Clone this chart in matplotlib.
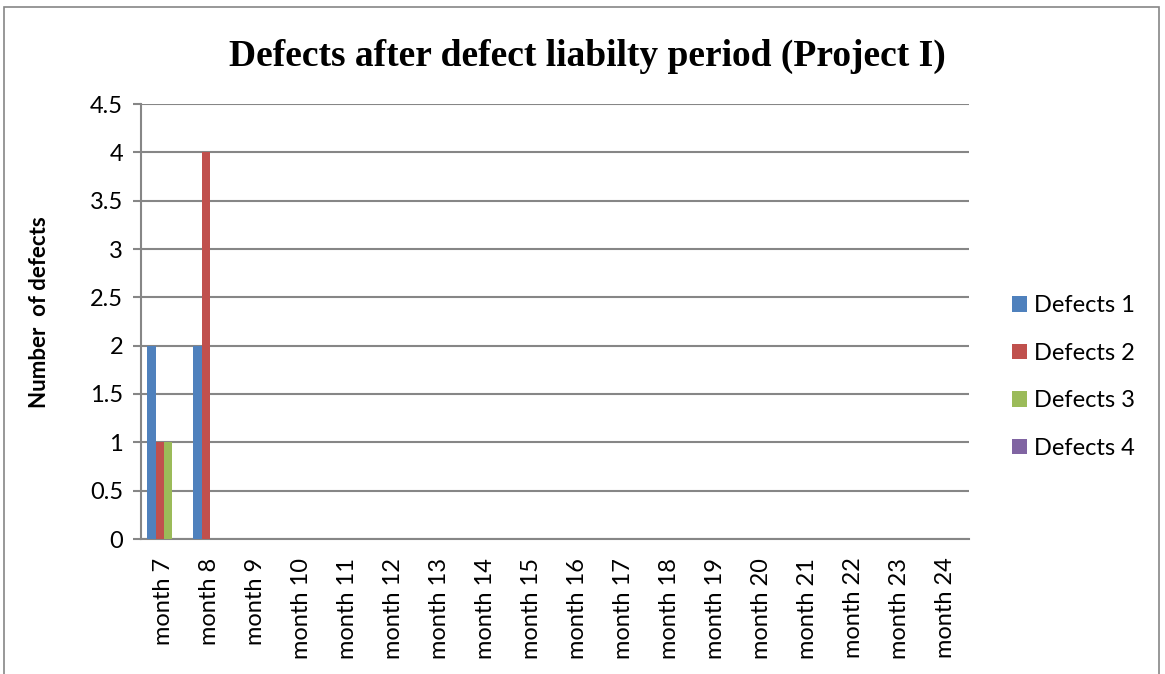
import matplotlib
matplotlib.use("Agg")
import matplotlib.pyplot as plt
import numpy as np
from matplotlib.patches import Rectangle

categories = ["month %d" % m for m in range(7, 25)]
series_names = ["Defects 1", "Defects 2", "Defects 3", "Defects 4"]
defects1 = [2, 2, 0, 0, 0, 0, 0, 0, 0, 0, 0, 0, 0, 0, 0, 0, 0, 0]
defects2 = [1, 4, 0, 0, 0, 0, 0, 0, 0, 0, 0, 0, 0, 0, 0, 0, 0, 0]
defects3 = [1, 0, 0, 0, 0, 0, 0, 0, 0, 0, 0, 0, 0, 0, 0, 0, 0, 0]
defects4 = [0, 0, 0, 0, 0, 0, 0, 0, 0, 0, 0, 0, 0, 0, 0, 0, 0, 0]
yticks = [0, 0.5, 1, 1.5, 2, 2.5, 3, 3.5, 4, 4.5]
colors = ["#4F81BD", "#C0504D", "#9BBB59", "#8064A2"]

W, H = 1165, 674
fig = plt.figure(figsize=(W / 100, H / 100), dpi=100)
plt.rcParams['font.family'] = ['Lato', 'DejaVu Sans']

# figure border
fig.add_artist(Rectangle((4 / W, -0.01), (1159 - 4) / W, 1 - 7 / H + 0.01,
                         transform=fig.transFigure, fill=False,
                         edgecolor="#868686", linewidth=1.2))

left, right, top, bottom = 141, 969, 104, 539
ax = fig.add_axes([left / W, 1 - bottom / H, (right - left) / W, (bottom - top) / H])

n = len(categories)
x = np.arange(n)
bw = 1 / 5.5
data = [defects1, defects2, defects3, defects4]
for i, (vals, c, name) in enumerate(zip(data, colors, series_names)):
    ax.bar(x - 0.5 + 0.75 * bw + bw * i + bw / 2, vals, width=bw, color=c,
           label=name, zorder=3, linewidth=0)

ax.set_xlim(-0.5, n - 0.5)
ax.set_ylim(0, 4.5)
ax.set_yticks(yticks)
ax.set_yticklabels([("%g" % v) for v in yticks], fontsize=17)
ax.set_xticks(x)
ax.set_xticklabels(categories, rotation=90, fontsize=17, ha="right",
                   va="center", rotation_mode="anchor")
ax.tick_params(axis="x", length=0, pad=13.5)
ax.tick_params(axis="y", length=5.8, width=1.5, color="#868686", pad=7)
ax.yaxis.grid(True, color="#868686", linewidth=1.5, zorder=0)
for s in ["top", "right"]:
    ax.spines[s].set_visible(False)
for s in ["left", "bottom"]:
    ax.spines[s].set_color("#868686")
    ax.spines[s].set_linewidth(1.5)

fig.text(40 / W, 1 - 312 / H, "Number  of defects", fontsize=16,
         fontweight="bold", rotation=90, ha="center", va="center")

fig.text(587 / W, 1 - 56 / H, "Defects after defect liabilty period (Project I)",
         family="Liberation Serif", fontweight="bold", fontsize=27,
         ha="center", va="center")

handles, labels = ax.get_legend_handles_labels()
leg = fig.legend(handles, labels, loc="center left",
                 bbox_to_anchor=(991 / W, 1 - 377 / H), frameon=False,
                 fontsize=17, handlelength=0.64, handleheight=0.64,
                 handletextpad=0.3, labelspacing=1.12)

fig.savefig("out.png", dpi=100)
